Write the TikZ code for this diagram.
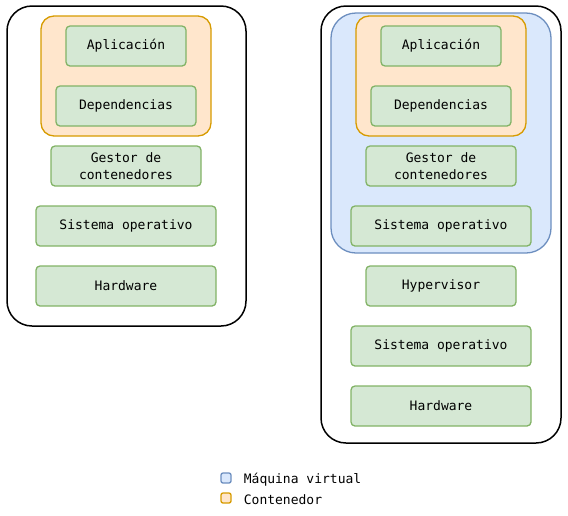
\documentclass[tikz,border=0pt]{standalone}
\usepackage{fontspec}
\setmonofont{DejaVu Sans Mono}
\usetikzlibrary{positioning,fit}
\definecolor{capafill}{HTML}{D5E8D4}
\definecolor{capadraw}{HTML}{82B366}
\definecolor{contfill}{HTML}{FFE6CC}
\definecolor{contdraw}{HTML}{D79B00}
\definecolor{vmfill}{HTML}{DAE8FC}
\definecolor{vmdraw}{HTML}{6C8EBF}
\pgfdeclarelayer{background}
\pgfsetlayers{background,main}

\begin{document}
\begin{tikzpicture}[
    x=1pt, y=-1pt,
    every node/.style={font=\ttfamily\fontsize{13}{17}\selectfont},
    capa/.style ={
        rectangle,
        rounded corners=4pt,
        fill=capafill,
        draw=capadraw,
        line width=1.3pt,
        minimum height=40pt,
        inner sep=0pt,
        outer sep=0pt,
        align=center
    },
    equipo/.style ={
        rectangle,
        rounded corners=25pt,
        draw=black,
        line width=1.5pt,
        outer sep=0pt
    },
    contenedor/.style ={
        rectangle,
        rounded corners=13pt,
        fill=contfill,
        draw=contdraw,
        line width=1.3pt,
        inner xsep=15pt,
        inner ysep=10pt
    },
    vm/.style ={
        rectangle,
        rounded corners=25pt,
        fill=vmfill,
        draw=vmdraw,
        line width=1.3pt,
        inner xsep=20pt,
        inner ysep=10pt,
        yshift=3pt
    },
    leyenda/.style ={
        rectangle,
        rounded corners=2pt,
        line width=1.3pt,
        minimum size=10pt,
        inner sep=0pt
    }
    ]

    \useasboundingbox (0,0) rectangle (568,515);

    % contenedores
    \node[equipo, minimum width=239pt, minimum height=320pt] (host1) at (126.5,166) {};
    \node[capa, minimum width=120pt] (app1) at (126,46) {Aplicación};
    \node[capa, minimum width=140pt] (dep1) [below=20pt of app1] {Dependencias};
    \node[capa, minimum width=150pt] (ges1) [below=20pt of dep1] {Gestor de\\contenedores};
    \node[capa, minimum width=180pt] (so1) [below=20pt of ges1] {Sistema operativo};
    \node[capa, minimum width=180pt] (hw1) [below=20pt of so1] {Hardware};

    % maquina virtual
    \node[equipo, minimum width=240pt, minimum height=437pt] (host2) at (441,224.5) {};
    \node[capa, minimum width=120pt] (app2) at (441,46) {Aplicación};
    \node[capa, minimum width=140pt] (dep2) [below=20pt of app2] {Dependencias};
    \node[capa, minimum width=150pt] (ges2) [below=20pt of dep2] {Gestor de\\contenedores};
    \node[capa, minimum width=180pt] (so2) [below=20pt of ges2] {Sistema operativo};
    \node[capa, minimum width=150pt] (hyp) [below=20pt of so2] {Hypervisor};
    \node[capa, minimum width=180pt] (so3) [below=20pt of hyp] {Sistema operativo};
    \node[capa, minimum width=180pt] (hw2) [below=20pt of so3] {Hardware};

    \begin{pgfonlayer}{background}
        \node[vm, fit=(app2)(so2)] (maq) {};
        \node[contenedor, fit=(app1)(dep1)] (cont1) {};
        \node[contenedor, fit=(app2)(dep2)] (cont2) {};
    \end{pgfonlayer}

    % leyenda
    \foreach \n/\c/\txt/\y in {lvm/vm/Máquina virtual/478, lcont/cont/Contenedor/498} {
        \node[leyenda, fill=\c fill, draw=\c draw] (\n) at (226,\y) {};
        \node[inner sep=0pt, yshift=-1.5pt] (t\n) [right=12pt of \n] {\txt};
    }
\end{tikzpicture}
\end{document}
